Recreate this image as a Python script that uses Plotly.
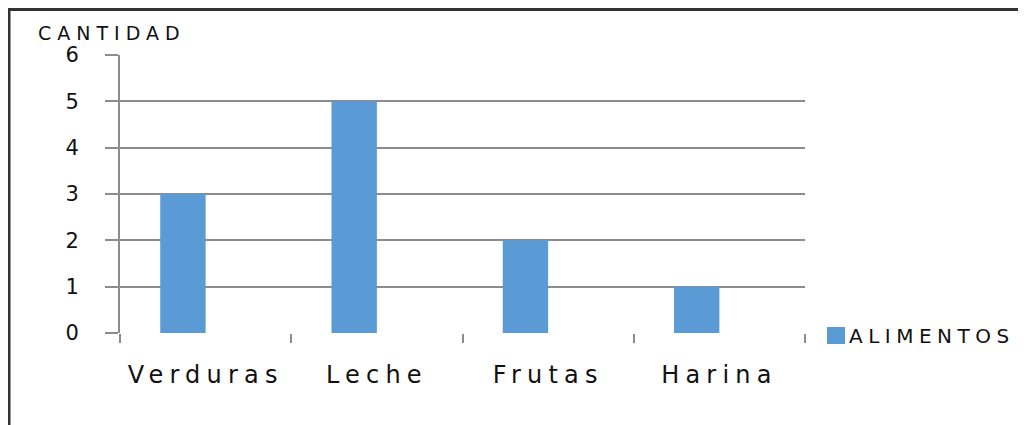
import plotly.graph_objects as go

categories = ["Verduras", "Leche", "Frutas", "Harina"]
values = [3, 5, 2, 1]
series_name = "ALIMENTOS"
y_title = "CANTIDAD"
y_ticks = [0, 1, 2, 3, 4, 5, 6]

W, H = 1026, 425
OFF = 8  # page body margin of the browser
L, R, T, B = 120 - OFF, 805 - OFF, 55 - OFF, 333 - OFF  # plot area in pixels


def px(x):
    return (x - OFF - L) / (R - L)


def py(y):
    return (B - (y - OFF)) / (B - T)


def spaced(s, sp):
    return f'<span style="letter-spacing:{sp}px">{s}</span>'


blue = "#5B9BD5"
grid = "#8C8C8C"
ink = "#111111"

fig = go.Figure()
fig.add_trace(go.Bar(
    x=categories, y=values, name=series_name,
    marker=dict(color=blue, line=dict(width=0)),
    width=0.265, offset=-0.265, showlegend=False,
))

fig.update_layout(
    width=W, height=H,
    margin=dict(l=L, r=W - R, t=T, b=H - B, pad=0),
    paper_bgcolor="white", plot_bgcolor="white",
    xaxis=dict(
        type="category", range=[-0.5, 3.5],
        tickmode="array", tickvals=categories,
        ticktext=[spaced(c, 6.2) for c in categories],
        tickson="boundaries", ticks="outside", ticklen=9, tickwidth=2,
        tickcolor=grid, showgrid=False, showline=False, zeroline=False,
        tickfont=dict(family="DejaVu Sans", size=24, color=ink),
        ticklabelstandoff=25,
    ),
    yaxis=dict(
        range=[0, 6], tickmode="array", tickvals=y_ticks,
        ticks="outside", ticklen=13, tickwidth=2, tickcolor=grid,
        showgrid=True, gridcolor=grid, gridwidth=2,
        showline=True, linecolor=grid, linewidth=2, zeroline=False,
        tickfont=dict(family="DejaVu Sans", size=21, color=ink),
        ticklabelstandoff=22,
    ),
    shapes=[
        dict(type="line", xref="paper", yref="paper",
             x0=px(9), x1=px(W + 20), y0=py(OFF + 1.5), y1=py(OFF + 1.5),
             line=dict(color="#333333", width=3)),
        dict(type="line", xref="paper", yref="paper",
             x0=px(9), x1=px(9), y0=py(OFF), y1=py(H + 20),
             line=dict(color="#333333", width=3)),
        dict(type="rect", xref="paper", yref="paper",
             x0=px(827), x1=px(845), y0=py(344), y1=py(327),
             fillcolor=blue, line=dict(width=0)),
    ],
    annotations=[
        dict(text=spaced(y_title, 6), xref="paper", yref="paper",
             x=px(36), y=py(33), xanchor="left", yanchor="middle",
             showarrow=False,
             font=dict(family="DejaVu Sans", size=19, color=ink)),
        dict(text=spaced(series_name, 5.5), xref="paper", yref="paper",
             x=px(847), y=py(336), xanchor="left", yanchor="middle",
             showarrow=False,
             font=dict(family="DejaVu Sans", size=20, color=ink)),
    ],
)

fig.write_html("out.html")
